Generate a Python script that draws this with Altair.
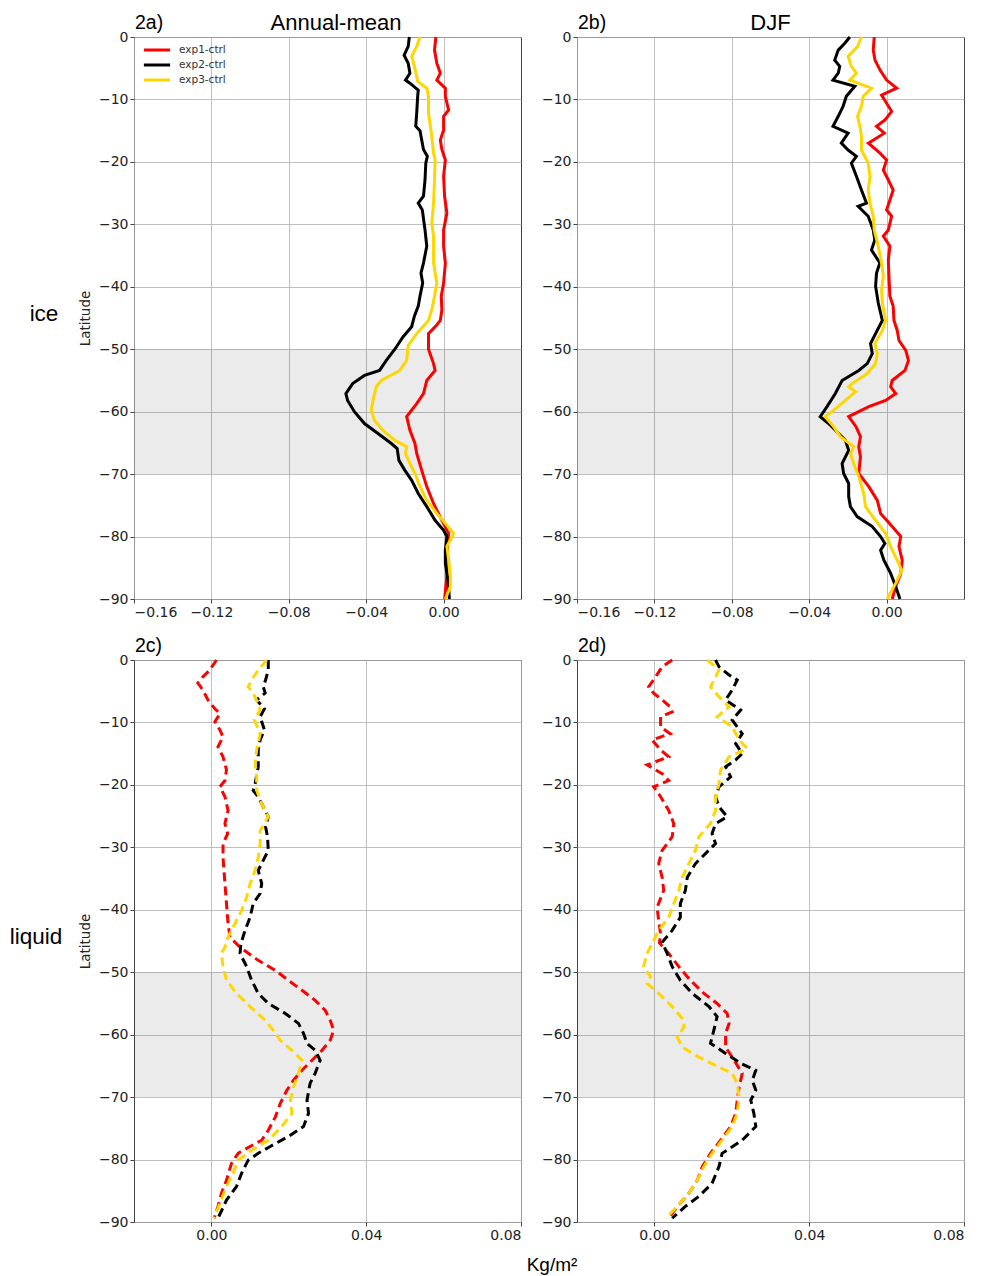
import altair as alt
import pandas as pd

SERIES = ["exp1-ctrl", "exp2-ctrl", "exp3-ctrl"]
COLORS = ["#ff0000", "#000000", "#ffd700"]

# ---------------- Panel 2a (ice, annual mean) ----------------
A1_LAT = [0, -2.1, -4.2, -5.8, -6.9, -8.2, -9.5, -11.7, -12.7, -14.9, -16.5, -18, -19.7, -22.3, -25.5, -28.2, -30.9, -33.5, -36.2, -39.4, -41.5, -43.7, -45.4, -46.3, -47.5, -50, -52.3, -53.4, -55, -57.1, -58.7, -60.8, -63, -65.1, -66.7, -69.4, -72, -74.7, -77.4, -79.5, -82.7, -86, -88, -90]
A1_VAL = [-0.0040, -0.0047, -0.0035, -0.0017, -0.0035, 0.0009, 0.0009, 0.0026, 0.0, 0.0, -0.0017, -0.0009, 0.0009, 0.0, 0.0005, 0.0017, 0.0, 0.0, 0.0009, 0.0, -0.0012, -0.0009, -0.0017, -0.0040, -0.0078, -0.0078, -0.0052, -0.0044, -0.0087, -0.0104, -0.0139, -0.0191, -0.0174, -0.0148, -0.0139, -0.0113, -0.0087, -0.0052, -0.0009, 0.0026, 0.0017, 0.0017, 0.0012, 0.0005]
A2_LAT = [0, -1.5, -2.9, -4.2, -5.8, -6.9, -7.4, -8.5, -9.5, -12.2, -14.3, -15, -18, -19.1, -20.2, -22.9, -25.5, -26.6, -27.7, -30.9, -33.5, -36.2, -37.8, -39.4, -41.5, -43.1, -44.7, -46.4, -48, -50, -51.8, -53.4, -54.2, -55.5, -57.1, -58.2, -60, -61.9, -63.5, -65.1, -65.9, -67.8, -69.4, -71, -73.1, -75.2, -77.4, -79, -80, -82.2, -84.3, -87, -90]
A2_VAL = [-0.0177, -0.0183, -0.0204, -0.0183, -0.0174, -0.0197, -0.0174, -0.0131, -0.0134, -0.0139, -0.0144, -0.0122, -0.0104, -0.0084, -0.0092, -0.0096, -0.0104, -0.0131, -0.0110, -0.0096, -0.0087, -0.0104, -0.0117, -0.0108, -0.0122, -0.0131, -0.0151, -0.0165, -0.0209, -0.0252, -0.0296, -0.0331, -0.0409, -0.0470, -0.0505, -0.0496, -0.0461, -0.0409, -0.0339, -0.0270, -0.0240, -0.0231, -0.0200, -0.0165, -0.0131, -0.0087, -0.0044, 0.0, 0.0017, 0.0009, 0.0009, 0.0023, 0.0030]
A3_LAT = [0, -1.5, -3.1, -4.7, -6.3, -7.1, -8.2, -9.5, -12.2, -15.9, -18.6, -19.7, -22.9, -26.6, -29.8, -31.9, -36.2, -39.4, -41.5, -43.7, -45.4, -46.3, -47.5, -49.4, -51.8, -53.4, -55, -56, -58.2, -59.8, -61.4, -63, -64.6, -65.6, -66.7, -68.3, -69.9, -72, -74.2, -76.3, -77.9, -79.5, -81.6, -83.7, -86.4, -88, -90]
A3_VAL = [-0.0122, -0.0139, -0.0165, -0.0151, -0.0139, -0.0134, -0.0087, -0.0078, -0.0078, -0.0061, -0.0052, -0.0044, -0.0047, -0.0052, -0.0061, -0.0052, -0.0052, -0.0035, -0.0047, -0.0061, -0.0078, -0.0104, -0.0139, -0.0183, -0.0191, -0.0226, -0.0322, -0.0348, -0.0365, -0.0374, -0.0357, -0.0313, -0.0252, -0.0191, -0.0197, -0.0174, -0.0148, -0.0122, -0.0087, -0.0035, 0.0009, 0.0052, 0.0017, 0.0026, 0.0035, 0.0035, 0.0009]

# ---------------- Panel 2b (ice, DJF) ----------------
B1_LAT = [0, -2.1, -3.7, -5.3, -6.9, -8.2, -9.3, -10.6, -11.9, -13.3, -14.3, -15.4, -17, -18.6, -19.7, -21.3, -22.9, -24.5, -26.1, -27.7, -28.7, -30.9, -31.9, -33.5, -35.7, -38.3, -41.5, -43.1, -45.4, -47, -48.6, -50.2, -51.8, -53.4, -55, -56, -57.1, -58.2, -59.2, -60.8, -62.4, -64, -65.6, -67.2, -69.9, -72, -74.2, -76.3, -78.4, -80, -81.6, -83.8, -85.9, -88, -90]
B1_VAL = [-0.0064, -0.0069, -0.0060, -0.0034, 0.0, 0.0052, -0.0026, 0.0, 0.0026, -0.0009, -0.0052, -0.0012, -0.0094, -0.0034, 0.0, -0.0017, 0.0009, 0.0034, 0.0017, 0.0, 0.0026, 0.0009, -0.0017, 0.0017, 0.0009, 0.0012, 0.0017, 0.0034, 0.0038, 0.0055, 0.0064, 0.0099, 0.0113, 0.0095, 0.0029, 0.0021, 0.0047, -0.0005, -0.0092, -0.0196, -0.0158, -0.0135, -0.0144, -0.0135, -0.0144, -0.0092, -0.0048, -0.0031, 0.0029, 0.0073, 0.0064, 0.0081, 0.0073, 0.0047, 0.0029]
B2_LAT = [0, -1, -2.1, -3.7, -4.7, -5.8, -6.9, -7.9, -9.5, -11.1, -12.7, -14.3, -15.4, -17, -18.1, -19.1, -20.2, -22.3, -24.5, -26.6, -27.1, -28.7, -30.9, -32.5, -34.1, -36.2, -37.8, -39.9, -42.6, -45.4, -47.5, -49.1, -50.7, -52.3, -53.4, -55, -57.1, -59.2, -60.8, -61.9, -63.5, -64.6, -66.2, -68.3, -69.9, -71.5, -73.6, -75.2, -76.8, -78.4, -80, -81.1, -82.2, -83.8, -85.9, -88, -90]
B2_VAL = [-0.0190, -0.0216, -0.0250, -0.0268, -0.0242, -0.0250, -0.0277, -0.0164, -0.0208, -0.0225, -0.0250, -0.0277, -0.0199, -0.0234, -0.0199, -0.0156, -0.0182, -0.0156, -0.0130, -0.0104, -0.0147, -0.0095, -0.0069, -0.0061, -0.0078, -0.0035, -0.0052, -0.0057, -0.0043, -0.0022, -0.0057, -0.0083, -0.0074, -0.0100, -0.0144, -0.0230, -0.0265, -0.0308, -0.0343, -0.0300, -0.0248, -0.0213, -0.0196, -0.0230, -0.0222, -0.0196, -0.0196, -0.0187, -0.0152, -0.0074, -0.0031, -0.0009, -0.0031, -0.0014, 0.0021, 0.0047, 0.0069]
B3_LAT = [0, -1.5, -3.1, -4.7, -5.8, -6.9, -8.2, -9.5, -11.1, -12.7, -14.3, -15.9, -18.1, -20.2, -22.3, -24.5, -26.6, -28.7, -30.9, -33.5, -36.2, -38.3, -40.5, -42.6, -45.4, -47, -49.1, -50.7, -52.3, -53.9, -55.5, -56, -56.8, -58.2, -59.8, -60.8, -62.4, -64, -65.6, -66.7, -68.3, -70.4, -73.1, -75.2, -77.4, -79.5, -81.6, -83.8, -85.4, -87.5, -90]
B3_VAL = [-0.0130, -0.0150, -0.0199, -0.0182, -0.0156, -0.0190, -0.0078, -0.0121, -0.0130, -0.0150, -0.0138, -0.0130, -0.0130, -0.0095, -0.0086, -0.0095, -0.0086, -0.0069, -0.0064, -0.0043, -0.0026, -0.0017, -0.0026, -0.0022, -0.0005, -0.0022, -0.0061, -0.0048, -0.0057, -0.0100, -0.0178, -0.0196, -0.0161, -0.0213, -0.0274, -0.0317, -0.0274, -0.0239, -0.0170, -0.0187, -0.0170, -0.0144, -0.0118, -0.0109, -0.0057, -0.0005, 0.0021, 0.0055, 0.0078, 0.0047, 0.0003]

# ---------------- Panel 2c (liquid, annual mean) ----------------
C1_LAT = [0, -1.6, -2.7, -3.7, -4.8, -6.4, -7.8, -8.6, -9.9, -11.2, -12.3, -13.9, -15.5, -17.6, -19.3, -20.3, -21.9, -24.1, -26.2, -27.8, -29.4, -31.6, -35.8, -39, -42.2, -44.4, -46, -48.1, -49.7, -51.3, -52.9, -54.5, -56.1, -57.7, -59.3, -60.9, -62.5, -64.1, -65.7, -67.3, -68.9, -71, -73.2, -75.3, -76.9, -77.9, -79, -80.6, -83.3, -85.4, -87.5, -89.4]
C1_VAL = [0.0013, -0.0004, -0.0022, -0.0035, -0.0022, -0.0009, 0.0009, 0.0022, 0.0009, 0.0022, 0.0030, 0.0017, 0.0030, 0.0039, 0.0035, 0.0022, 0.0035, 0.0043, 0.0035, 0.0042, 0.0030, 0.0030, 0.0035, 0.0039, 0.0043, 0.0048, 0.0074, 0.0121, 0.0165, 0.0199, 0.0234, 0.0268, 0.0294, 0.0307, 0.0316, 0.0307, 0.0286, 0.0260, 0.0234, 0.0212, 0.0195, 0.0178, 0.0165, 0.0147, 0.0130, 0.0100, 0.0069, 0.0052, 0.0039, 0.0026, 0.0017, 0.0007]
C2_LAT = [0, -1.6, -3.2, -4.3, -5.3, -6.4, -7.8, -9.1, -11.2, -12.8, -14.4, -17.1, -19.8, -20.9, -21.9, -23.5, -25.1, -26.7, -28.3, -30.5, -32.1, -33.7, -35.8, -37.4, -39, -41.2, -43.3, -45.5, -47, -49.1, -51.3, -53.4, -55, -56.6, -58.2, -59.8, -61.4, -62.5, -64.1, -66.2, -67.8, -70.5, -72.6, -74.7, -76.3, -77.9, -79, -80.1, -82.2, -84.3, -86.5, -89.4]
C2_VAL = [0.0147, 0.0147, 0.0140, 0.0134, 0.0139, 0.0117, 0.0137, 0.0126, 0.0137, 0.0126, 0.0121, 0.0121, 0.0113, 0.0108, 0.0121, 0.0134, 0.0147, 0.0140, 0.0145, 0.0147, 0.0134, 0.0121, 0.0130, 0.0126, 0.0108, 0.0100, 0.0087, 0.0076, 0.0074, 0.0091, 0.0104, 0.0121, 0.0147, 0.0191, 0.0225, 0.0238, 0.0247, 0.0268, 0.0281, 0.0268, 0.0255, 0.0247, 0.0251, 0.0238, 0.0199, 0.0152, 0.0121, 0.0095, 0.0078, 0.0065, 0.0039, 0.0017]
C3_LAT = [0, -1.6, -3.2, -4.3, -5.3, -7, -8, -9.6, -11.8, -14.4, -16.6, -18.7, -20.9, -23, -25.1, -27.3, -29.4, -31.6, -33.7, -35.8, -38, -40.1, -42.2, -44.4, -46, -47, -49.1, -51.3, -53.4, -55.5, -57.7, -59.3, -60.9, -62.5, -64.1, -66.2, -68.4, -70.5, -72.6, -74.7, -76.9, -78.5, -80.1, -82.2, -84.3, -87, -89.4]
C3_VAL = [0.0143, 0.0121, 0.0104, 0.0095, 0.0108, 0.0121, 0.0126, 0.0111, 0.0126, 0.0117, 0.0113, 0.0117, 0.0117, 0.0130, 0.0147, 0.0126, 0.0126, 0.0121, 0.0113, 0.0100, 0.0091, 0.0078, 0.0061, 0.0043, 0.0035, 0.0026, 0.0030, 0.0039, 0.0065, 0.0100, 0.0139, 0.0160, 0.0178, 0.0208, 0.0234, 0.0225, 0.0212, 0.0204, 0.0208, 0.0182, 0.0147, 0.0104, 0.0069, 0.0056, 0.0039, 0.0022, 0.0007]

# ---------------- Panel 2d (liquid, DJF) ----------------
D1_LAT = [0, -1.1, -2.7, -4.3, -5.3, -6.4, -7.5, -8.3, -9.1, -10.7, -11.8, -12.8, -14.4, -15.5, -16.8, -18.2, -19.3, -20.3, -21.9, -24.1, -26.2, -28.3, -30.5, -32.6, -34.8, -36.9, -39.6, -41.7, -43.9, -45.3, -47, -49.1, -51.3, -53.4, -55, -56.6, -58.2, -59.8, -62, -64.1, -66.2, -68.4, -70.5, -72.6, -74.7, -76.9, -79, -81.1, -83.3, -85.4, -87.5, -89.4]
D1_VAL = [0.0046, 0.0020, 0.0003, -0.0015, -0.0002, 0.0020, 0.0041, 0.0046, 0.0016, 0.0016, 0.0041, -0.0006, 0.0016, 0.0037, -0.0019, 0.0020, 0.0037, -0.0002, 0.0016, 0.0037, 0.0050, 0.0046, 0.0020, 0.0011, 0.0020, 0.0024, 0.0007, 0.0011, 0.0016, 0.0013, 0.0037, 0.0063, 0.0093, 0.0128, 0.0162, 0.0188, 0.0193, 0.0184, 0.0184, 0.0206, 0.0227, 0.0219, 0.0214, 0.0210, 0.0197, 0.0171, 0.0145, 0.0124, 0.0111, 0.0089, 0.0059, 0.0037]
D2_LAT = [0, -1.1, -2.4, -3.2, -4.8, -6.4, -8, -9.6, -11.8, -13.4, -15, -16, -17.1, -18.7, -20.3, -21.9, -23.5, -25.1, -26.2, -27.8, -29.4, -31, -32.6, -34.8, -36.9, -39, -41.2, -43.3, -45.2, -47, -49.1, -51.3, -53.4, -55.5, -57.1, -59.2, -61.4, -63, -64.6, -65.7, -67.3, -68.9, -70.5, -72.6, -74.7, -76.9, -79, -81.1, -83.8, -85.9, -87.5, -89.4]
D2_VAL = [0.0158, 0.0167, 0.0193, 0.0214, 0.0201, 0.0184, 0.0223, 0.0201, 0.0227, 0.0210, 0.0227, 0.0210, 0.0184, 0.0197, 0.0167, 0.0158, 0.0167, 0.0188, 0.0158, 0.0149, 0.0158, 0.0132, 0.0106, 0.0085, 0.0080, 0.0067, 0.0067, 0.0046, 0.0020, 0.0033, 0.0046, 0.0067, 0.0098, 0.0141, 0.0162, 0.0154, 0.0145, 0.0184, 0.0223, 0.0262, 0.0253, 0.0262, 0.0249, 0.0257, 0.0262, 0.0227, 0.0175, 0.0167, 0.0149, 0.0115, 0.0080, 0.0046]
D3_LAT = [0, -1.6, -3.2, -4.3, -5.9, -7.5, -9.1, -10.7, -12.8, -14.2, -15.5, -17.6, -19.8, -21.9, -24.1, -26.2, -28.3, -30.5, -32.6, -34.8, -36.9, -39, -41.2, -43.3, -45.2, -47, -49.1, -50.7, -51.8, -53.4, -55.5, -57.7, -58.8, -60.4, -62, -63.6, -65.2, -66.2, -67.8, -70, -72.6, -74.7, -76.9, -79, -81.1, -83.3, -85.4, -87.5, -89.4]
D3_VAL = [0.0137, 0.0167, 0.0154, 0.0145, 0.0167, 0.0193, 0.0162, 0.0201, 0.0219, 0.0240, 0.0193, 0.0171, 0.0167, 0.0158, 0.0158, 0.0145, 0.0115, 0.0106, 0.0089, 0.0072, 0.0063, 0.0050, 0.0037, 0.0011, -0.0004, -0.0019, -0.0028, -0.0010, -0.0019, 0.0011, 0.0046, 0.0076, 0.0076, 0.0059, 0.0072, 0.0115, 0.0167, 0.0201, 0.0214, 0.0219, 0.0214, 0.0201, 0.0175, 0.0149, 0.0128, 0.0111, 0.0089, 0.0059, 0.0029]

ICE_TICKS = [-0.16, -0.12, -0.08, -0.04, 0.0]
ICE_DOMAIN = [-0.16, 0.04]
LIQ_TICKS = [0.0, 0.04, 0.08]
LIQ_DOMAIN = [-0.02, 0.08]
LAT_TICKS = [-90, -80, -70, -60, -50, -40, -30, -20, -10, 0]
BAND = [-50, -70]

W, H = 387, 562
TXT_FONT = "Liberation Sans"


def frame(parts):
    rows = []
    for name, (lats, vals) in zip(SERIES, parts):
        for i, (la, v) in enumerate(zip(lats, vals)):
            rows.append({"series": name, "lat": la, "val": v, "idx": i})
    return pd.DataFrame(rows)


def panel(parts, domain, ticks, dashed, tag, title=None, title_x=None, row_label=None,
          row_x=None, ylab=True, legend=False, xlabel=False):
    df = frame(parts)
    xscale = alt.Scale(domain=domain, nice=False, zero=False)
    yscale = alt.Scale(domain=[-90, 0], nice=False, zero=False)
    band = alt.Chart(pd.DataFrame({"y1": [BAND[0]], "y2": [BAND[1]]})).mark_rect(
        color="#000000", opacity=0.08
    ).encode(
        y=alt.Y("y1:Q", scale=yscale),
        y2="y2:Q",
        x=alt.datum(domain[0]),
        x2=alt.datum(domain[1]),
    )
    leg = None
    if legend:
        leg = alt.Legend(
            title=None, orient="none", legendX=14, legendY=4,
            symbolType="M-1.75,0L1.75,0", symbolStrokeWidth=3, symbolSize=225,
            labelFontSize=10.5, labelFont="DejaVu Sans", labelColor="#333",
            rowPadding=0, padding=0, labelOffset=13,
        )
    line_kw = dict(strokeWidth=3)
    if dashed:
        line_kw["strokeDash"] = [9, 5]
    lines = alt.Chart(df).mark_line(**line_kw).encode(
        x=alt.X("val:Q", scale=xscale,
                axis=alt.Axis(values=ticks, format=".2f", title=None)),
        y=alt.Y("lat:Q", scale=yscale,
                axis=alt.Axis(values=LAT_TICKS, format="d",
                              title="Latitude" if ylab else None)),
        color=alt.Color("series:N", scale=alt.Scale(domain=SERIES, range=COLORS),
                        legend=leg),
        order="idx:Q",
        detail="series:N",
    )
    layers = [band, lines]
    texts = [(tag, 1, -14, "left", 19.5)]
    if title:
        texts.append((title, title_x, -14, "center", 22))
    if row_label:
        texts.append((row_label, row_x, H / 2 - 4, "center", 22.5))
    if xlabel:
        texts.append(("Kg/m²", -25, 605, "center", 19))
    for t, x, y, al, fs in texts:
        layers.append(
            alt.Chart(pd.DataFrame({"t": [t]})).mark_text(
                align=al, baseline="middle", fontSize=fs, font=TXT_FONT, color="#000"
            ).encode(text="t:N", x=alt.value(x), y=alt.value(y))
        )
    return alt.layer(*layers).properties(width=W, height=H)


pa = panel([(A1_LAT, A1_VAL), (A2_LAT, A2_VAL), (A3_LAT, A3_VAL)], ICE_DOMAIN, ICE_TICKS,
           False, "2a)", title="Annual-mean", title_x=202, row_label="ice", row_x=-90,
           legend=True)
pb = panel([(B1_LAT, B1_VAL), (B2_LAT, B2_VAL), (B3_LAT, B3_VAL)], ICE_DOMAIN, ICE_TICKS,
           False, "2b)", title="DJF", title_x=W / 2, ylab=False)
pc = panel([(C1_LAT, C1_VAL), (C2_LAT, C2_VAL), (C3_LAT, C3_VAL)], LIQ_DOMAIN, LIQ_TICKS,
           True, "2c)", row_label="liquid", row_x=-98)
pd_ = panel([(D1_LAT, D1_VAL), (D2_LAT, D2_VAL), (D3_LAT, D3_VAL)], LIQ_DOMAIN, LIQ_TICKS,
            True, "2d)", ylab=False, xlabel=True)

chart = alt.concat(
    pa, pb, pc, pd_, columns=2, spacing={"row": 61, "column": 56}, bounds="flush"
).resolve_scale(
    color="independent", x="independent", y="independent"
).properties(
    padding={"left": 9, "top": 11, "right": 0, "bottom": 0},
    background="white",
).configure_view(
    stroke="#444", strokeWidth=1
).configure_axis(
    grid=True, gridColor="#b0b0b0", gridWidth=0.8, domain=False,
    tickColor="#444", tickSize=4, labelFont="DejaVu Sans", labelFontSize=14,
    labelColor="#222", labelPadding=2, titleFont="DejaVu Sans", titleFontSize=13.5,
    titleFontWeight="normal", titleColor="#222", titlePadding=6,
).configure_legend(
    fillColor=None, strokeColor=None
)

chart.save("out.html", embed_options={"renderer": "svg", "actions": False})
